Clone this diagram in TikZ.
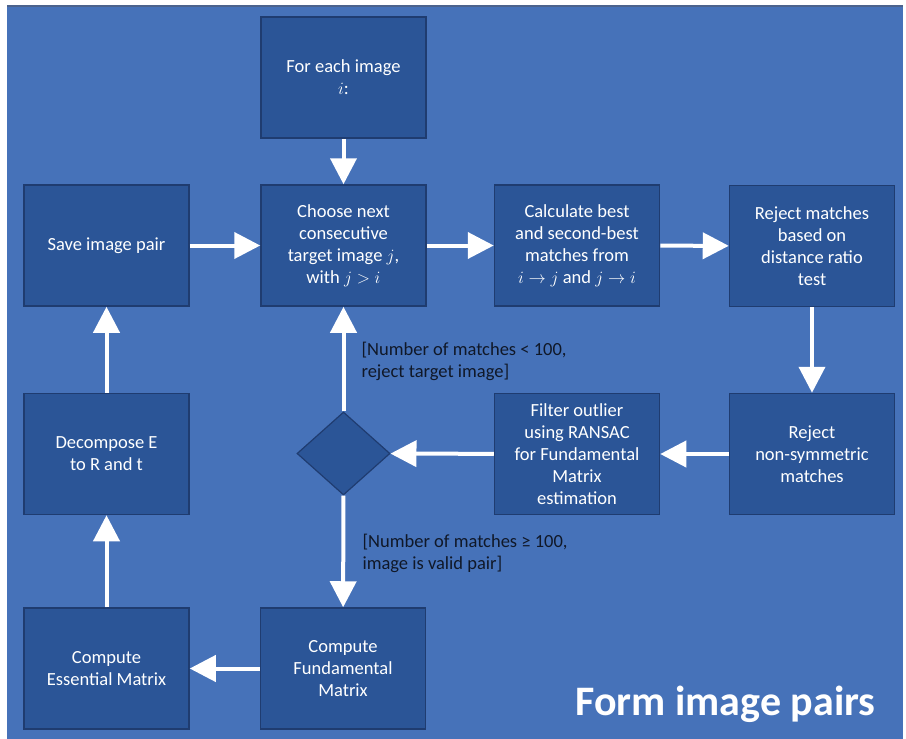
\documentclass[tikz,border=0pt]{standalone}
\usepackage{fontspec}
\setmainfont{Carlito}
\usepackage{tikz}
\usetikzlibrary{arrows.meta,shapes.geometric}

\definecolor{slidebg}{HTML}{4672B9}
\definecolor{boxfill}{HTML}{2B5597}
\definecolor{boxline}{HTML}{1F3C70}
\definecolor{labeltext}{HTML}{101828}

\begin{document}
\begin{tikzpicture}[x=1pt,y=-1pt,
   box/.style={rectangle,draw=boxline,fill=boxfill,line width=1.5pt,
    minimum width=165pt,minimum height=121pt,inner sep=0pt,
    text=white,align=center,font=\fontsize{18.5}{22}\selectfont},
   decision/.style={diamond,draw=boxline,fill=boxfill,line width=1.2pt,
    minimum width=93pt,minimum height=83pt,inner sep=0pt,aspect=1.1},
   flow/.style={draw=white,line width=4pt,
    -{Triangle[length=26pt,width=26pt]},fill=white},
   cond/.style={text=labeltext,align=left,anchor=west,
    font=\fontsize{18.5}{22}\selectfont}
    ]
  % -- background
  \useasboundingbox (0,0) rectangle (906,739);
  \fill[white] (0,0) rectangle (906,739);
  \fill[slidebg] (7,5) rectangle (903,739);
  \draw[boxline!80,line width=2pt] (7,6) -- (903,6);

  % -- top row
  \node[box] at (343.5,77.5) (each) {For each image\\$i$:};
  \node[box] at (106.5,245.5) (save) {Save image pair};
  \node[box] at (343.5,245.5) (choose) {Choose next\\consecutive\\target image $j$,\\with $j>i$};
  \node[box] at (577,245.5) (calc) {Calculate best\\and second-best\\matches from\\$i\to j$ and $j\to i$};
  \node[box] at (812,246) (ratio) {Reject matches\\based on\\distance ratio\\test};

  % -- middle row
  \node[box] at (106.5,454) (decomp) {Decompose E\\to R and t};
  \node[decision] at (343.5,453.5) (check) {};
  \node[box] at (577,454) (ransac) {Filter outlier\\using RANSAC\\for Fundamental\\Matrix\\estimation};
  \node[box] at (812,454) (symm) {Reject\\non-symmetric\\matches};

  % -- bottom row
  \node[box] at (106.5,668.5) (essential) {Compute\\Essential Matrix};
  \node[box] at (343,668.5) (fundamental) {Compute\\Fundamental\\Matrix};

  % -- arrows
  \draw[flow] (each) -- (choose);
  \draw[flow] (save) -- (choose);
  \draw[flow] (choose) -- (calc);
  \draw[flow] (calc) -- (ratio);
  \draw[flow] (ratio) -- (symm);
  \draw[flow] (symm) -- (ransac);
  \draw[flow] (ransac) -- (check);
  \draw[flow] (check) -- (choose);
  \draw[flow] (check) -- (fundamental);
  \draw[flow] (fundamental) -- (essential);
  \draw[flow] (essential) -- (decomp);
  \draw[flow] (decomp) -- (save);

  % -- labels
  \node[cond] at (358,361) (reject) {[Number of matches < 100,\\reject target image]};
  \node[cond] at (359,553) (valid) {[Number of matches \char"2265{} 100,\\image is valid pair]};
  \node[text=white,anchor=base west,font=\fontsize{42}{46}\bfseries] at (572,715) (title) {Form image pairs};

\end{tikzpicture}
\end{document}
